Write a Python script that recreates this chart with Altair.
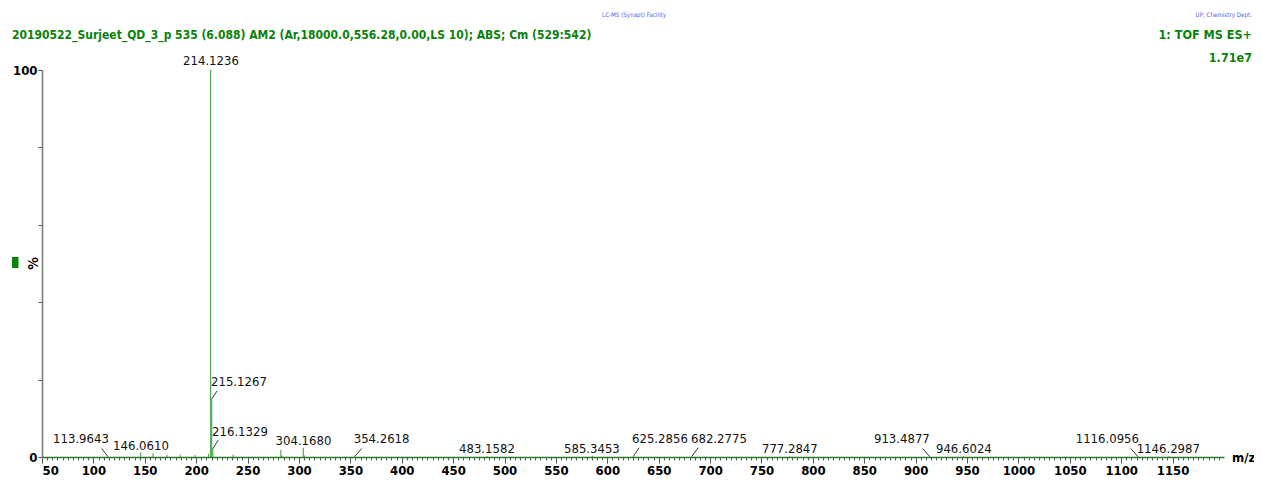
import altair as alt
import pandas as pd

# ---- spectrum sticks (m/z, relative intensity %) ----
peak_mz = [113.9643, 146.0610, 158.0, 171.6, 184.5, 199.0, 212.1, 214.1236, 215.1267,
           216.1329, 236.0, 282.4, 283.4, 304.1680, 305.2, 354.2618, 483.1582, 585.3453,
           625.2856, 682.2775, 777.2847, 913.4877, 946.6024, 1116.0956, 1146.2987]
peak_int = [0.15, 1.2, 1.0, 0.6, 0.6, 0.5, 0.8, 100.0, 15.0,
            2.1, 0.6, 1.8, 0.4, 2.4, 0.4, 0.15, 0.2, 0.3,
            0.15, 0.15, 0.15, 0.15, 0.2, 0.15, 0.2]

# ---- peak labels (text, anchor m/z, anchor %) ----
label_text = ["214.1236", "215.1267", "216.1329", "113.9643", "146.0610", "304.1680",
              "354.2618", "483.1582", "585.3453", "625.2856", "682.2775", "777.2847",
              "913.4877", "946.6024", "1116.0956", "1146.2987"]
label_x = [214.4, 241.6, 242.6, 87.9, 146.3, 304.4, 380.4, 482.9, 585.0, 651.2, 708.6,
           777.6, 886.6, 946.9, 1086.5, 1145.8]
label_y = [101.3, 18.3, 5.4, 3.6, 1.8, 3.1, 3.6, 1.1, 1.1, 3.6, 3.6, 1.1, 3.6, 1.0, 3.6, 1.0]

# ---- leader lines (peak -> label) ----
leader_mz = [215.1267, 216.1329, 113.9643, 354.2618, 625.2856, 682.2775, 913.4877, 1116.0956]
leader_x_end = [220.5, 221.5, 108.1, 361.0, 631.0, 688.4, 906.7, 1109.3]
leader_y_end = [17.1, 4.4, 2.2, 2.2, 2.4, 2.4, 2.2, 2.2]

title_text = "20190522_Surjeet_QD_3_p 535 (6.088) AM2 (Ar,18000.0,556.28,0.00,LS 10); ABS; Cm (529:542)"
mode_text = "1: TOF MS ES+"
scale_text = "1.71e7"
facility_text = "LC-MS (Synapt) Facility"
dept_text = "UP, Chemistry Dept."
x_title = "m/z"

NARROW = "'DejaVu Sans Condensed', 'Liberation Sans', sans-serif"
GREEN = "#0a820a"

spec = pd.DataFrame({"mz": peak_mz, "inten": peak_int})
labels = pd.DataFrame({"t": label_text, "x": label_x, "y": label_y})
int_lookup = dict(zip(peak_mz, peak_int))
leaders = pd.DataFrame({"x": leader_mz, "y": [int_lookup[m] for m in leader_mz],
                        "x2": leader_x_end, "y2": leader_y_end})

xscale = alt.Scale(domain=[50, 1200], nice=False, zero=False)
yscale = alt.Scale(domain=[0, 100], nice=False)

minor_axis = alt.Axis(values=list(range(50, 1200, 5)), labels=False, tickSize=3,
                      tickColor="#555555", domainColor="#2b7a2b", domainWidth=1.5,
                      title=None, grid=False, orient="bottom")
major_axis = alt.Axis(values=list(range(50, 1151, 50)), tickSize=6, tickColor="#555555",
                      domain=False, labelFont=NARROW, labelFontWeight="bold", format="d",
                      labelFontSize=13, labelColor="black", labelPadding=1,
                      title=None, grid=False, orient="bottom")
y_axis = alt.Axis(values=list(range(0, 101, 10)),
                  labelExpr="datum.value == 0 || datum.value == 100 ? datum.label : ''",
                  tickSize=4, tickColor="#555555", domainColor="#777777", domainWidth=1.5,
                  labelFont=NARROW, labelFontWeight="bold", labelFontSize=13,
                  labelColor="black", labelPadding=1, grid=False,
                  title="%", titleFont=NARROW, titleFontWeight="bold", titleFontSize=14,
                  titleAngle=270, titleX=-9, titleY=193, titleAlign="center",
                  titleBaseline="middle")

sticks = alt.Chart(spec).mark_rule(color="#2f9e2f", strokeWidth=1).encode(
    x=alt.X("mz:Q", scale=xscale, axis=minor_axis),
    y=alt.Y("inten:Q", scale=yscale, axis=y_axis),
    y2=alt.datum(0),
)

major_layer = alt.Chart(spec).mark_rule(opacity=0).encode(
    x=alt.X("mz:Q", scale=xscale, axis=major_axis),
    y=alt.Y("inten:Q", scale=yscale),
)

label_layer = alt.Chart(labels).mark_text(
    font=NARROW, fontSize=13, color="#111111", align="center", baseline="alphabetic"
).encode(x=alt.X("x:Q", axis=None), y=alt.Y("y:Q"), text="t:N")

leader_layer = alt.Chart(leaders).mark_rule(color="#222222", strokeWidth=0.9).encode(
    x=alt.X("x:Q", axis=None), y=alt.Y("y:Q"), x2="x2:Q", y2="y2:Q"
)


def note(txt, x, y, align, size, color, weight="normal", font=NARROW):
    return alt.Chart(pd.DataFrame({"t": [txt]})).mark_text(
        align=align, baseline="middle", fontSize=size, color=color,
        fontWeight=weight, font=font
    ).encode(x=alt.value(x), y=alt.value(y), text="t:N")


notes = [
    note(title_text, -30, -35, "left", 12, GREEN, "bold"),
    note(facility_text, 592, -55, "center", 6.2, "#5a5aee"),
    note(dept_text, 1210, -55, "right", 6.2, "#5a5aee"),
    note(mode_text, 1210, -35, "right", 12.5, GREEN, "bold"),
    note(scale_text, 1210, -12, "right", 12.5, GREEN, "bold"),
    note(x_title, 1190, 388, "left", 13, "black", "bold"),
]

marker = alt.Chart(pd.DataFrame({"a": [0]})).mark_rect(color="#0a820a").encode(
    x=alt.value(-30), x2=alt.value(-23.5), y=alt.value(187), y2=alt.value(198)
)

chart = alt.layer(sticks, major_layer, leader_layer, label_layer, marker, *notes).resolve_axis(
    x="independent"
).properties(
    width=1182, height=387,
    padding={"left": 34, "top": 62, "right": 30, "bottom": 22},
    autosize=alt.AutoSizeParams(type="none"),
).configure(background="white").configure_view(strokeWidth=0, stroke="transparent")

chart.save("out.html", embed_options={"renderer": "svg", "actions": False})
